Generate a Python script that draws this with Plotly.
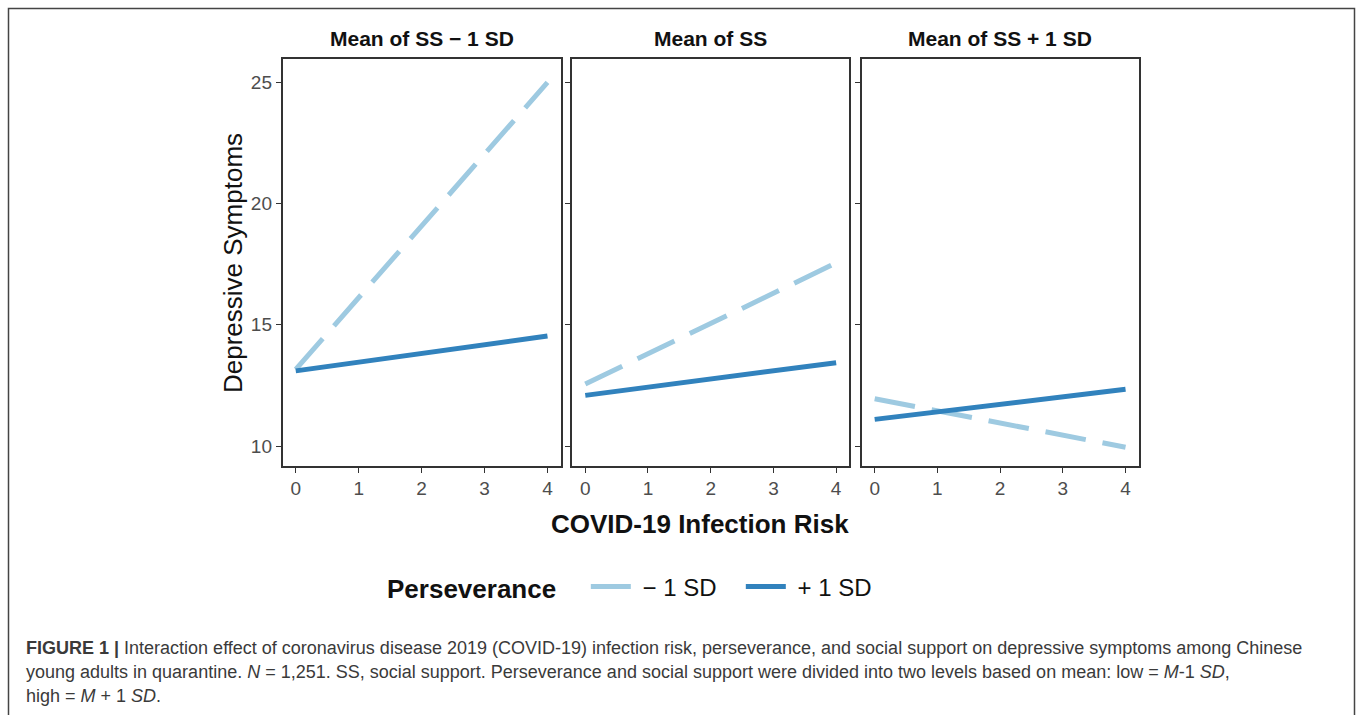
import plotly.graph_objects as go

# ---- data ----
risk = [0, 4]
panels = ["Mean of SS − 1 SD", "Mean of SS", "Mean of SS + 1 SD"]
low_pers = [[13.16, 25.0], [12.56, 17.55], [11.95, 9.95]]    # Perseverance − 1 SD
high_pers = [[13.10, 14.54], [12.09, 13.44], [11.10, 12.34]]  # Perseverance + 1 SD
y_ticks = [10, 15, 20, 25]
x_ticks = [0, 1, 2, 3, 4]
legend_names = ["− 1 SD", "+ 1 SD"]

LIGHT = "#9ecae1"
DARK = "#3182bd"
W, H = 1357, 715
FONT = "Liberation Sans, Arial, sans-serif"
PAD = "\u00a0"

fig = go.Figure()

doms = [(282.7, 560.7), (572.3, 849.3), (861.7, 1138.7)]
ydom = [(H - 465.7) / H, (H - 59.3) / H]

for i in range(3):
    xa = "x" if i == 0 else f"x{i+1}"
    ya = "y" if i == 0 else f"y{i+1}"
    fig.add_trace(go.Scatter(x=risk, y=low_pers[i], mode="lines", xaxis=xa, yaxis=ya,
                             line=dict(color=LIGHT, width=5, dash="41px,17px"),
                             name=PAD + legend_names[0], showlegend=(i == 0), legendgroup="low"))
    fig.add_trace(go.Scatter(x=risk, y=high_pers[i], mode="lines", xaxis=xa, yaxis=ya,
                             line=dict(color=DARK, width=5),
                             name=PAD + legend_names[1], showlegend=(i == 0), legendgroup="high"))

axis_common = dict(showline=True, mirror=True, linecolor="#333333", linewidth=1.8,
                   ticks="outside", ticklen=5, tickcolor="#333333", tickwidth=1.3,
                   showgrid=False, zeroline=False,
                   tickfont=dict(family=FONT, size=19, color="#4d4d4d"))

layout = dict(width=W, height=H, margin=dict(l=0, r=0, t=0, b=0),
              paper_bgcolor="white", plot_bgcolor="white", showlegend=True)

for i in range(3):
    xk = "xaxis" if i == 0 else f"xaxis{i+1}"
    yk = "yaxis" if i == 0 else f"yaxis{i+1}"
    xa = "x" if i == 0 else f"x{i+1}"
    ya = "y" if i == 0 else f"y{i+1}"
    layout[xk] = dict(axis_common, domain=[doms[i][0] / W, doms[i][1] / W], range=[-0.207, 4.21],
                      tickvals=x_ticks, anchor=ya)
    layout[yk] = dict(axis_common, domain=ydom, range=[9.19, 25.95], tickvals=y_ticks,
                      anchor=xa, showticklabels=(i == 0))

fig.update_layout(**layout)

ann = []
for i in range(3):
    cx = (doms[i][0] + doms[i][1]) / 2 / W
    ann.append(dict(text=f"<b>{panels[i]}</b>", x=cx, y=(H - 38) / H, xref="paper", yref="paper",
                    showarrow=False, xanchor="center", yanchor="middle",
                    font=dict(family=FONT, size=21, color="#111111")))

ann.append(dict(text="Depressive Symptoms", x=233 / W, y=(H - 263) / H, xref="paper", yref="paper",
                showarrow=False, textangle=-90, xanchor="center", yanchor="middle",
                font=dict(family=FONT, size=26, color="#111111")))
ann.append(dict(text="<b>COVID-19 Infection Risk</b>", x=700 / W, y=(H - 524) / H, xref="paper", yref="paper",
                showarrow=False, xanchor="center", yanchor="middle",
                font=dict(family=FONT, size=26, color="#111111")))

cap_font = dict(family=FONT, size=18, color="#3a3a3a")
cap_lines = [
    "<b>FIGURE 1 |</b> Interaction effect of coronavirus disease 2019 (COVID-19) infection risk, perseverance, and social support on depressive symptoms among Chinese",
    "young adults in quarantine. <i>N</i> = 1,251. SS, social support. Perseverance and social support were divided into two levels based on mean: low = <i>M</i>-1 <i>SD</i>,",
    "high = <i>M</i> + 1 <i>SD</i>.",
]
for k, line in enumerate(cap_lines):
    ann.append(dict(text=line, x=24 / W, y=(H - (648 + 24 * k)) / H, xref="paper", yref="paper",
                    showarrow=False, xanchor="left", yanchor="middle", align="left", font=cap_font))

fig.update_layout(
    annotations=ann,
    legend=dict(orientation="h", x=385 / W, y=(H - 587) / H, xanchor="left", yanchor="middle",
                title=dict(text="<b>Perseverance</b>   ", side="left",
                           font=dict(family=FONT, size=26, color="#111111")),
                font=dict(family=FONT, size=24, color="#111111"),
                itemwidth=40, entrywidth=100, traceorder="normal", bgcolor="rgba(0,0,0,0)"),
    shapes=[dict(type="rect", xref="paper", yref="paper", x0=8.5 / W, x1=1354.5 / W,
                 y0=-0.01, y1=(H - 8.5) / H, line=dict(color="#444444", width=1.5))],
)

fig.write_html("out.html", config={"displayModeBar": False},
               post_script="document.body.style.margin='0';document.body.style.overflow='hidden';")
